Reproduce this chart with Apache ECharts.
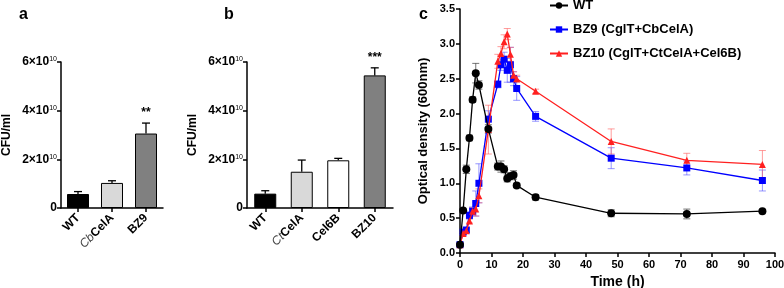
<!DOCTYPE html>
<html><head><meta charset="utf-8">
<script src="https://cdn.jsdelivr.net/npm/echarts@6/dist/echarts.min.js"></script>
<style>html,body{margin:0;padding:0;background:#fff}#c{width:784px;height:288px}</style>
</head><body><div id="c"></div>
<script>
// Panel a
const catsA = ['WT', 'CbCelA', 'BZ9'];
const valsA = [5.75e9, 1.03e10, 3.06e10];
const errA = [1.0e9, 0.9e9, 4.3e9];
const sigA = ['', '', '**'];
const colA = ['#000000', '#d9d9d9', '#808080'];
// Panel b
const catsB = ['WT', 'CtCelA', 'Cel6B', 'BZ10'];
const valsB = [5.9e9, 1.49e10, 1.96e10, 5.45e10];
const errB = [1.2e9, 4.8e9, 0.8e9, 3.1e9];
const sigB = ['', '', '', '***'];
const colB = ['#000000', '#d9d9d9', '#ffffff', '#808080'];
const cfuTicks = [0, 2e10, 4e10, 6e10];
// Panel c
const times = [0, 1, 2, 3, 4, 5, 6, 9, 12, 13, 14, 15, 16, 17, 18, 24, 48, 72, 96];
const wt = [0.12, 0.61, 1.2, 1.65, 2.2, 2.58, 2.41, 1.78, 1.24, 1.24, 1.2, 1.07, 1.1, 1.12, 0.97, 0.8, 0.57, 0.56, 0.6];
const wtErr = [0.02, 0.02, 0.06, 0.04, 0.04, 0.14, 0.06, 0.06, 0.05, 0.08, 0.05, 0.05, 0.05, 0.06, 0.03, 0.04, 0.05, 0.07, 0.02];
const bz9 = [0.12, 0.3, 0.33, 0.54, 0.6, 0.71, 1.0, 1.92, 2.42, 2.7, 2.78, 2.62, 2.7, 2.5, 2.36, 1.96, 1.36, 1.22, 1.04];
const bz9Err = [0.02, 0.03, 0.03, 0.05, 0.06, 0.18, 0.28, 0.12, 0.05, 0.08, 0.1, 0.17, 0.25, 0.1, 0.17, 0.07, 0.15, 0.1, 0.15];
const bz10 = [0.12, 0.28, 0.32, 0.46, 0.6, 0.63, 0.82, 1.77, 2.75, 2.86, 3.03, 3.14, 2.85, 2.55, 2.5, 2.32, 1.6, 1.33, 1.27];
const bz10Err = [0.02, 0.02, 0.03, 0.03, 0.05, 0.1, 0.1, 0.35, 0.1, 0.1, 0.1, 0.08, 0.1, 0.05, 0.05, 0.03, 0.18, 0.1, 0.2];
const seriesNames = ['WT', 'BZ9 (CglT+CbCelA)', 'BZ10 (CglT+CtCelA+Cel6B)'];

const FONT = 'Liberation Sans, Arial, sans-serif';
const chart = echarts.init(document.getElementById('c'), null, {renderer: 'canvas'});

function cfuLabel(v) {
  if (v === 0) return '{b|0}';
  return '{b|' + (v / 1e10) + '×10}{s|10}';
}
const cfuRich = {
  b: {fontFamily: FONT, fontWeight: 'bold', fontSize: 12, color: '#000'},
  s: {fontFamily: FONT, fontWeight: 'normal', fontSize: 7, color: '#000', verticalAlign: 'top'}
};
function catLabel(v) {
  if (v.startsWith('Cb') || v.startsWith('Ct')) return '{i|' + v.slice(0, 2) + '}{b|' + v.slice(2) + '}';
  return '{b|' + v + '}';
}
const catRich = {
  b: {fontFamily: FONT, fontWeight: 'bold', fontSize: 12, color: '#000'},
  i: {fontFamily: FONT, fontStyle: 'italic', fontWeight: 'normal', fontSize: 12, color: '#444'}
};
const axisLine = {show: true, lineStyle: {color: '#000', width: 1.5}};
const axisTick = {show: true, length: 4, lineStyle: {color: '#000', width: 1.5}};

function barYAxis(idx) {
  return {
    type: 'value', gridIndex: idx, min: 0, max: 6e10, interval: 2e10,
    name: 'CFU/ml', nameLocation: 'middle', nameGap: 48, nameRotate: 90,
    nameTextStyle: {fontFamily: FONT, fontWeight: 'bold', fontSize: 12, color: '#000'},
    axisLine, axisTick, splitLine: {show: false},
    axisLabel: {formatter: cfuLabel, rich: cfuRich, margin: 4}
  };
}
function barXAxis(idx, cats) {
  return {
    type: 'category', gridIndex: idx, data: cats,
    axisLine, axisTick: {show: true, alignWithLabel: true, length: 4, lineStyle: {color: '#000', width: 1.5}},
    axisLabel: {rotate: 45, formatter: catLabel, rich: catRich, margin: 8, interval: 0},
    splitLine: {show: false}
  };
}
function barErrSeries(idx, vals, errs, sig) {
  return {
    type: 'custom', xAxisIndex: idx, yAxisIndex: idx, z: 5,
    data: vals.map((v, i) => [i, v, errs[i], sig[i]]),
    renderItem: function (params, api) {
      const base = api.coord([api.value(0), api.value(1)]);
      const top = api.coord([api.value(0), api.value(1) + api.value(2)]);
      const hw = 4;
      const children = [
        {type: 'line', shape: {x1: base[0], y1: base[1], x2: top[0], y2: top[1]}, style: {stroke: '#000', lineWidth: 1.3}},
        {type: 'line', shape: {x1: top[0] - hw, y1: top[1], x2: top[0] + hw, y2: top[1]}, style: {stroke: '#000', lineWidth: 1.3}}
      ];
      const s = sig[params.dataIndex];
      if (s) children.push({type: 'text', style: {text: s, x: top[0], y: top[1] - 4, align: 'center', verticalAlign: 'bottom', fontFamily: FONT, fontWeight: 'bold', fontSize: 12, fill: '#000'}});
      return {type: 'group', children};
    }
  };
}
function barSeries(idx, vals, cols, width) {
  return {
    type: 'bar', xAxisIndex: idx, yAxisIndex: idx, barWidth: width,
    data: vals.map((v, i) => ({value: v, itemStyle: {color: cols[i]}})),
    itemStyle: {borderColor: '#000', borderWidth: 1},
    emphasis: {disabled: true}
  };
}
function lineErr(idx, ys, errs, color) {
  return {
    type: 'custom', xAxisIndex: 2, yAxisIndex: 2, z: 1, silent: true,
    data: times.map((t, i) => [t, ys[i], errs[i]]),
    renderItem: function (params, api) {
      const lo = api.coord([api.value(0), api.value(1) - api.value(2)]);
      const hi = api.coord([api.value(0), api.value(1) + api.value(2)]);
      const hw = 3.5;
      const st = {stroke: color, lineWidth: 1};
      return {type: 'group', children: [
        {type: 'line', shape: {x1: lo[0], y1: lo[1], x2: hi[0], y2: hi[1]}, style: st},
        {type: 'line', shape: {x1: hi[0] - hw, y1: hi[1], x2: hi[0] + hw, y2: hi[1]}, style: st},
        {type: 'line', shape: {x1: lo[0] - hw, y1: lo[1], x2: lo[0] + hw, y2: lo[1]}, style: st}
      ]};
    }
  };
}
function lineSeries(name, ys, color, symbol, size, z) {
  return {
    type: 'line', name, xAxisIndex: 2, yAxisIndex: 2, z,
    data: times.map((t, i) => [t, ys[i]]),
    symbol, symbolSize: size, showAllSymbol: true,
    lineStyle: {color, width: 1.3}, itemStyle: {color, borderWidth: 0},
    emphasis: {disabled: true}
  };
}

const option = {
  backgroundColor: '#fff',
  animation: false,
  textStyle: {fontFamily: FONT},
  title: [
    {text: 'a', left: 14, top: 2, textStyle: {fontFamily: FONT, fontWeight: 'bold', fontSize: 16, color: '#000'}},
    {text: 'b', left: 219, top: 2, textStyle: {fontFamily: FONT, fontWeight: 'bold', fontSize: 16, color: '#000'}},
    {text: 'c', left: 414, top: 2, textStyle: {fontFamily: FONT, fontWeight: 'bold', fontSize: 16, color: '#000'}}
  ],
  legend: {
    data: seriesNames, orient: 'vertical', left: 544, top: -6, itemGap: 11,
    itemWidth: 18, itemHeight: 8,
    textStyle: {fontFamily: FONT, fontWeight: 'bold', fontSize: 13, color: '#000'},
    selectedMode: false
  },
  grid: [
    {left: 61, top: 62, width: 102, height: 146, outerBoundsMode: 'none', containLabel: false},
    {left: 247, top: 62, width: 146, height: 146, outerBoundsMode: 'none', containLabel: false},
    {left: 460, top: 9, width: 315, height: 244, outerBoundsMode: 'none', containLabel: false}
  ],
  xAxis: [
    barXAxis(0, catsA),
    barXAxis(1, catsB),
    {
      type: 'value', gridIndex: 2, min: 0, max: 100, interval: 10,
      name: 'Time (h)', nameLocation: 'middle', nameGap: 22,
      nameTextStyle: {fontFamily: FONT, fontWeight: 'bold', fontSize: 14, color: '#000'},
      axisLine, axisTick, splitLine: {show: false},
      axisLabel: {fontFamily: FONT, fontWeight: 'bold', fontSize: 11, color: '#000', margin: 6}
    }
  ],
  yAxis: [
    barYAxis(0),
    barYAxis(1),
    {
      type: 'value', gridIndex: 2, min: 0, max: 3.5, interval: 0.5,
      name: 'Optical density (600nm)', nameLocation: 'middle', nameGap: 30, nameRotate: 90,
      nameTextStyle: {fontFamily: FONT, fontWeight: 'bold', fontSize: 13, color: '#000'},
      axisLine, axisTick, splitLine: {show: false},
      axisLabel: {fontFamily: FONT, fontWeight: 'bold', fontSize: 11, color: '#000', margin: 5, formatter: v => v.toFixed(1)}
    }
  ],
  series: [
    barSeries(0, valsA, colA, 22),
    barErrSeries(0, valsA, errA, sigA),
    barSeries(1, valsB, colB, 22),
    barErrSeries(1, valsB, errB, sigB),
    lineErr(2, bz9, bz9Err, 'rgba(80,80,255,0.6)'),
    lineErr(2, bz10, bz10Err, 'rgba(255,90,90,0.6)'),
    lineErr(2, wt, wtErr, 'rgba(60,60,60,0.7)'),
    lineSeries(seriesNames[1], bz9, '#0000ff', 'rect', 7, 3),
    lineSeries(seriesNames[2], bz10, '#ff2020', 'triangle', 7, 4),
    lineSeries(seriesNames[0], wt, '#000000', 'circle', 8, 5)
  ]
};
chart.setOption(option);
</script></body></html>
